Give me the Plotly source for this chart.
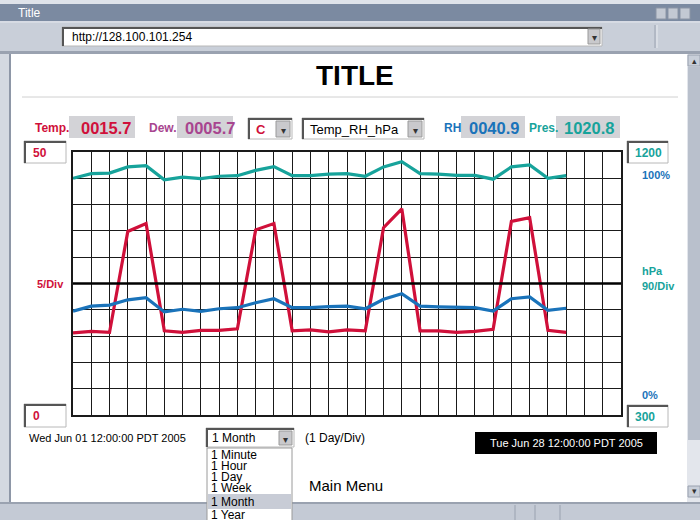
import plotly.graph_objects as go

# ---------------- data ----------------
day_index = list(range(28))  # days since Wed Jun 01 2005 (1 Day/Div)
temp_c = [15.6, 15.9, 15.7, 34.9, 36.4, 16.0, 15.7, 16.1, 16.1, 16.4, 35.2, 36.4, 16.0, 16.2,
          15.8, 16.2, 16.0, 35.6, 39.2, 16.0, 16.0, 15.7, 15.9, 16.3, 36.8, 37.5, 16.1, 15.7]
pres_hpa = [1110, 1126, 1128, 1149, 1153, 1105, 1114, 1109, 1117, 1119, 1137, 1150, 1119, 1119,
            1124, 1126, 1117, 1149, 1167, 1126, 1124, 1120, 1120, 1107, 1149, 1156, 1110, 1119]
rh_pct = [39.5, 41.4, 41.8, 43.8, 44.6, 39.2, 40.2, 39.4, 40.4, 40.8, 42.7, 44.2, 40.8, 40.8,
          41.2, 41.4, 40.4, 44.0, 46.1, 41.4, 41.1, 40.8, 40.8, 39.5, 44.2, 44.9, 39.8, 40.6]

temp_range = [0, 50]
pres_range = [300, 1200]
rh_range = [0, 100]
x_range = [0, 30]

readings = {"Temp.": "0015.7", "Dew.": "0005.7", "RH": "0040.9", "Pres.": "1020.8"}
period_options = ["1 Minute", "1 Hour", "1 Day", "1 Week", "1 Month", "1 Year"]
start_label = "Wed Jun 01 12:00:00 PDT 2005"
end_label = "Tue Jun 28 12:00:00 PDT 2005"

# ---------------- styling ----------------
RED = "#d0103a"
TEAL = "#17a39b"
BLUE = "#1a73ba"
PURPLE = "#a8458f"
FONT = "Liberation Sans, Arial, sans-serif"

W_FIG, H_FIG = 700, 520
ML, MR, MT, MB = 73, 79, 152, 105
PW = W_FIG - ML - MR
PH = H_FIG - MT - MB
BOT = H_FIG - MB


def px(x):
    return (x - ML) / PW


def py(y):
    return (BOT - y) / PH


shapes = []
annotations = []


def rect(x0, y0, x1, y1, fill, line=None, lw=1):
    shapes.append(dict(type="rect", xref="paper", yref="paper",
                       x0=px(x0), x1=px(x1), y0=py(y1), y1=py(y0),
                       fillcolor=fill, line=dict(color=line or fill, width=lw if line else 0),
                       layer="above"))


def hline(x0, x1, y, color, lw=1):
    shapes.append(dict(type="line", xref="paper", yref="paper",
                       x0=px(x0), x1=px(x1), y0=py(y), y1=py(y),
                       line=dict(color=color, width=lw), layer="above"))


def vline(x, y0, y1, color, lw=1):
    shapes.append(dict(type="line", xref="paper", yref="paper",
                       x0=px(x), x1=px(x), y0=py(y0), y1=py(y1),
                       line=dict(color=color, width=lw), layer="above"))


def txt(x, y, s, size=12, color="black", bold=False, anchor="left"):
    annotations.append(dict(xref="paper", yref="paper", x=px(x), y=py(y),
                            text=f"<b>{s}</b>" if bold else s, showarrow=False,
                            xanchor=anchor, yanchor="middle",
                            font=dict(family=FONT, size=size, color=color)))


def inset_box(x0, y0, x1, y1):
    rect(x0, y0, x1, y1, "white", "#b8b8b8", 1)
    hline(x0, x1, y0 + 1, "#555555", 2)
    vline(x0 + 1, y0, y1, "#555555", 2)


def combo_button(x0, y0, x1, y1):
    rect(x0, y0, x1, y1, "#c9c9cc", "#9a9a9a", 1)
    txt((x0 + x1) / 2, (y0 + y1) / 2 + 1, "▾", 10, "#333333", anchor="center")


# ---------------- window chrome ----------------
rect(0, 0, 700, 4, "#dfe3ea")
rect(0, 4, 700, 21, "#7b8aa1")
txt(16, 12.5, "Title", 12, "white")
for bx0 in (656, 668, 680):
    rect(bx0, 8, bx0 + 10, 19, "#c3c9d3", "#8c95a5", 1)
rect(0, 21, 700, 51, "#c9cfd9")
hline(0, 700, 22, "#e4e7ee", 1)
inset_box(62, 27, 602, 46)
combo_button(588, 29, 600, 44)
txt(70, 37, "http://128.100.101.254", 12, "black")
vline(655, 25, 48, "#9aa2b0", 1)
vline(657, 25, 48, "#e8ebf0", 1)
rect(0, 51, 700, 54, "#9aa2b0")

# left frame, scrollbar and status bar
rect(0, 54, 9, 503, "#d4d9e1")
vline(10, 54, 503, "#8e97a7", 2)
rect(687, 54, 700, 503, "#e3e6ec")
rect(688, 67, 700, 440, "#b9c0cc")
rect(688, 55, 700, 66, "#c9cfd9", "#9aa2b0", 1)
txt(694, 61, "▴", 9, "#333333", anchor="center")
rect(688, 486, 700, 497, "#c9cfd9", "#9aa2b0", 1)
txt(694, 491, "▾", 9, "#333333", anchor="center")
rect(0, 503, 700, 520, "#c4cad5")
hline(0, 700, 503, "#9aa2b0", 2)
for sx in (515, 535, 560):
    vline(sx, 505, 520, "#9aa2b0", 1)

# page title
txt(355, 75, "TITLE", 28, "black", bold=True, anchor="center")
hline(22, 678, 97, "#d0d0d0", 1)

# readings row
txt(33, 128, "Temp.", 12, RED, bold=True)
rect(69, 116, 135, 138, "#d3d3d7")
txt(79, 127.5, readings["Temp."], 16.5, RED, bold=True)
txt(147, 128, "Dew.", 12, PURPLE, bold=True)
rect(177, 116, 233, 138, "#d3d3d7")
txt(183, 127.5, readings["Dew."], 16.5, PURPLE, bold=True)

inset_box(248, 118, 292, 139)
combo_button(276, 121, 290, 137)
txt(254, 129, "C", 13, RED, bold=True)
inset_box(302, 118, 424, 139)
combo_button(408, 121, 422, 137)
txt(308, 129, "Temp_RH_hPa", 13, "black")

txt(442, 128, "RH", 12, BLUE, bold=True)
rect(461, 116, 525, 138, "#d3d3d7")
txt(467, 127.5, readings["RH"], 16.5, BLUE, bold=True)
txt(527, 128, "Pres.", 12, TEAL, bold=True)
rect(556, 116, 620, 138, "#d3d3d7")
txt(562, 127.5, readings["Pres."], 16.5, TEAL, bold=True)

# axis boxes and labels
inset_box(24, 141, 66, 163)
txt(31, 153, f"{temp_range[1]}", 12, RED, bold=True)
inset_box(24, 404, 66, 427)
txt(31, 416, f"{temp_range[0]}", 12, RED, bold=True)
txt(35, 284, "5/Div", 11, RED, bold=True)

inset_box(627, 141, 668, 163)
txt(633, 153, f"{pres_range[1]}", 12, TEAL, bold=True)
inset_box(627, 405, 668, 427)
txt(633, 417, f"{pres_range[0]}", 12, TEAL, bold=True)
txt(640, 175, f"{rh_range[1]}%", 11, BLUE, bold=True)
txt(640, 271, "hPa", 11, TEAL, bold=True)
txt(640, 286, "90/Div", 11, TEAL, bold=True)
txt(640, 395, f"{rh_range[0]}%", 11, BLUE, bold=True)

# bottom controls
txt(27, 438, start_label, 11, "black")
inset_box(206, 428, 294, 447)
combo_button(279, 431, 292, 445)
txt(210, 438, "1 Month", 12, "black")
txt(303, 438, "(1 Day/Div)", 12, "black")
rect(207, 448, 292, 522, "white", "#9a9a9a", 1)
rect(208, 494, 291, 509, "#c8ccd6")
for lbl, yy in zip(period_options, [455, 466, 477, 488, 501.5, 515]):
    txt(209, yy, lbl, 12, "black")
rect(475, 432, 657, 454, "black")
txt(566, 443, end_label, 11, "white", anchor="center")
txt(307, 485, "Main Menu", 15, "black")

# thick centre line of the grid
shapes.append(dict(type="line", xref="paper", yref="y", x0=0, x1=1, y0=25, y1=25,
                   line=dict(color="black", width=2.5), layer="above"))

# ---------------- traces ----------------
fig = go.Figure()
fig.add_trace(go.Scatter(x=day_index, y=pres_hpa, yaxis="y2", mode="lines",
                         line=dict(color=TEAL, width=3.2), name="hPa"))
fig.add_trace(go.Scatter(x=day_index, y=rh_pct, yaxis="y3", mode="lines",
                         line=dict(color=BLUE, width=3.2), name="RH"))
fig.add_trace(go.Scatter(x=day_index, y=temp_c, yaxis="y", mode="lines",
                         line=dict(color=RED, width=3.2), name="Temp"))

fig.update_layout(
    width=W_FIG, height=H_FIG,
    margin=dict(l=ML, r=MR, t=MT, b=MB, pad=0),
    paper_bgcolor="white", plot_bgcolor="white",
    showlegend=False,
    xaxis=dict(range=x_range, dtick=1, tick0=0, showgrid=True, gridcolor="#1a1a1a", gridwidth=1,
               showticklabels=False, ticks="", zeroline=False,
               showline=True, linecolor="#1a1a1a", linewidth=1.5, mirror=True, fixedrange=True),
    yaxis=dict(range=temp_range, dtick=5, tick0=0, showgrid=True, gridcolor="#1a1a1a", gridwidth=1,
               showticklabels=False, ticks="", zeroline=False,
               showline=True, linecolor="#1a1a1a", linewidth=1.5, mirror=True, fixedrange=True),
    yaxis2=dict(range=pres_range, overlaying="y", visible=False),
    yaxis3=dict(range=rh_range, overlaying="y", visible=False),
    shapes=shapes, annotations=annotations,
)

fig.write_html(
    "out.html",
    config={"displayModeBar": False},
    post_script="document.body.style.margin='0';document.body.style.overflow='hidden';",
)
